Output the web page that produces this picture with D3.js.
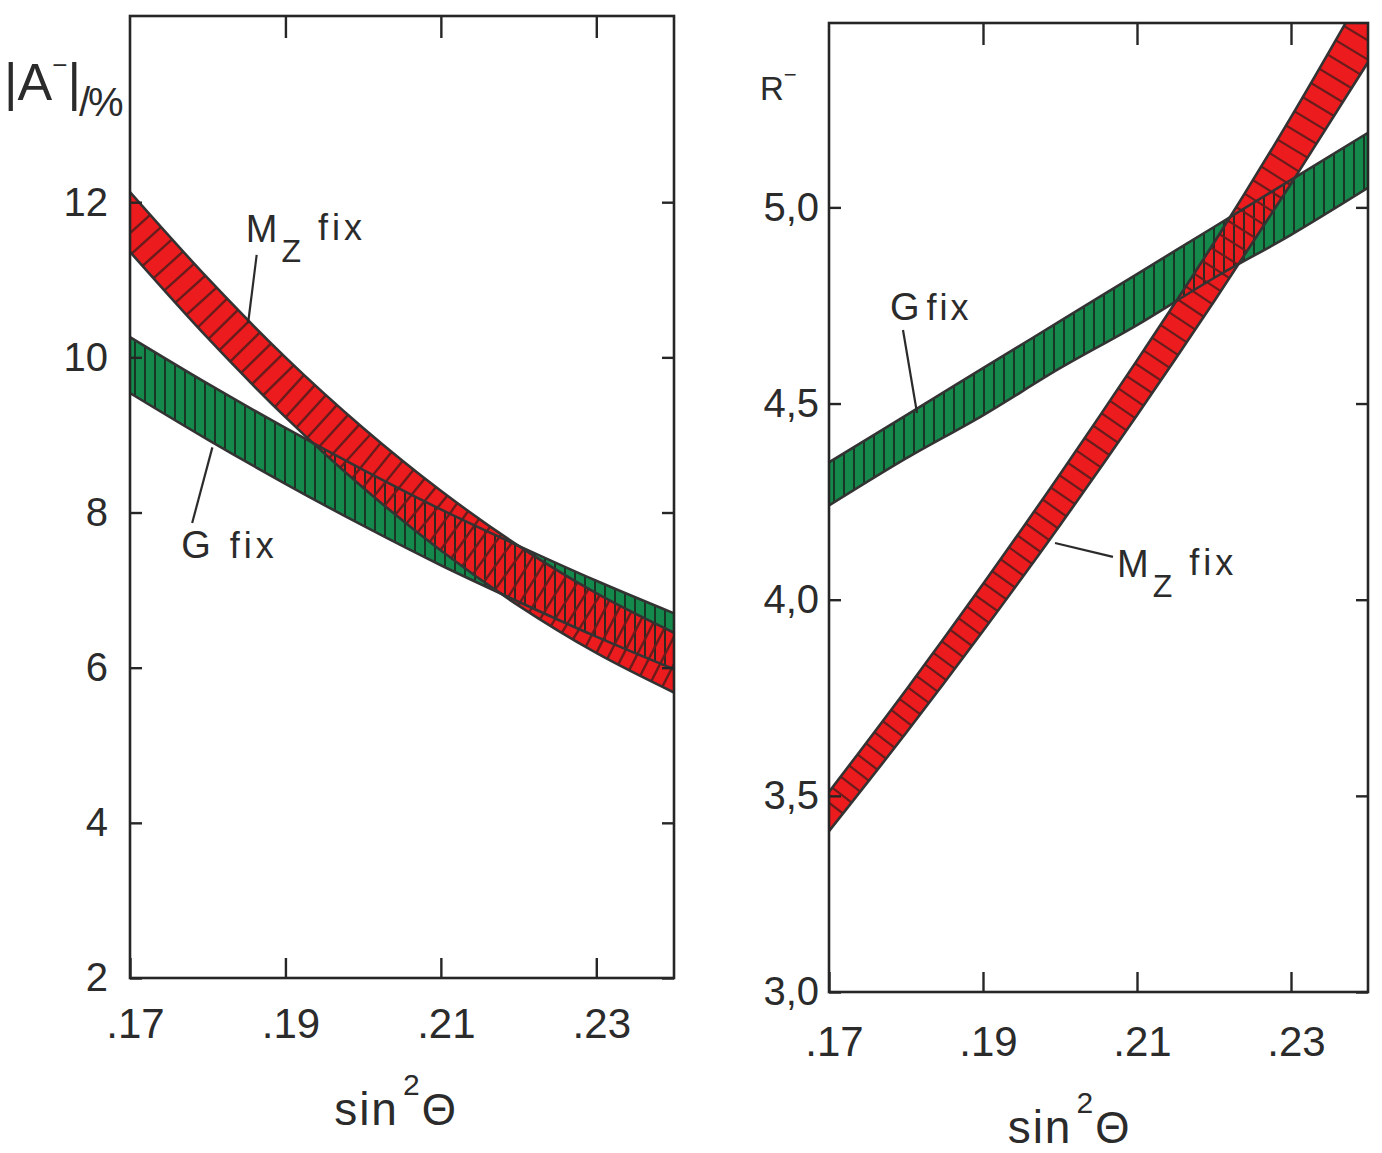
<!DOCTYPE html>
<html>
<head>
<meta charset="utf-8">
<script src="https://cdn.jsdelivr.net/npm/d3@7/dist/d3.min.js"></script>
<style>
  html, body { margin: 0; padding: 0; background: #ffffff; }
  svg { display: block; }
  text { font-family: "Liberation Sans", Arial, sans-serif; fill: #2b2b2b; }
</style>
</head>
<body>
<svg id="chart" width="1382" height="1153"></svg>
<script>
// Weak mixing angle grid shared by both panels
const sin2theta = [0.17, 0.18, 0.19, 0.20, 0.21, 0.22, 0.23, 0.24];

// |A-| in %, upper / lower edge of each band
const asymMzUpper = [12.13, 11.02, 10.00, 9.09, 8.28, 7.57, 6.96, 6.45];
const asymMzLower = [11.36, 10.25, 9.23, 8.32, 7.51, 6.80, 6.19, 5.68];
const asymGUpper  = [10.26, 9.66, 9.09, 8.55, 8.04, 7.57, 7.12, 6.70];
const asymGLower  = [9.54, 8.94, 8.37, 7.83, 7.32, 6.85, 6.40, 5.98];

// R-, upper / lower edge of each band
const ratioMzUpper = [3.51, 3.77, 4.04, 4.32, 4.61, 4.91, 5.23, 5.57];
const ratioMzLower = [3.41, 3.66, 3.92, 4.19, 4.47, 4.76, 5.06, 5.37];
const ratioGUpper  = [4.35, 4.47, 4.59, 4.71, 4.83, 4.95, 5.07, 5.19];
const ratioGLower  = [4.24, 4.36, 4.47, 4.59, 4.70, 4.82, 4.93, 5.05];

// Tick values
const xTickValues = [0.17, 0.19, 0.21, 0.23];
const asymTickValues = [2, 4, 6, 8, 10, 12];
const ratioTickValues = [3.0, 3.5, 4.0, 4.5, 5.0];

// Band label anchors in data units: [sin2theta, value]
const asymMzLabel = { text: ["M", "Z", "fix"], at: [0.1849, 11.49], lead: [[0.1863, 11.32], [0.1852, 10.44]] };
const asymGLabel  = { text: ["G", "", "fix"], at: [0.1766, 7.41], lead: [[0.1806, 8.84], [0.1780, 7.865]] };
const ratioGLabel  = { text: ["G", "", "fix"], at: [0.17792, 4.713], lead: [[0.17961, 4.6875], [0.18143, 4.476]] };
const ratioMzLabel = { text: ["M", "Z", "fix"], at: [0.2074, 4.058], lead: [[0.19935, 4.1445], [0.20688, 4.109]] };

const RED = "#ec1b1e", GREEN = "#15894b";
const RED_HATCH = "#6a1c1c", GREEN_HATCH = "#1b2c22", INK = "#262626";

const svg = d3.select("#chart");
const defs = svg.append("defs");

const panels = [
  {
    id: "asym",
    box: { left: 130, right: 674, top: 16, bottom: 978 },
    yDomain: [2, 14.4],
    yTicks: asymTickValues,
    yFormat: d => String(d),
    yPad: 22, xPad: 30,
    bands: [
      { upper: asymGUpper, lower: asymGLower, fill: GREEN, hatch: GREEN_HATCH, mode: "vertical", step: 10, width: 1.8 },
      { upper: asymMzUpper, lower: asymMzLower, fill: RED, hatch: RED_HATCH, mode: "across", step: 11, width: 2.4 }
    ],
    labels: [asymMzLabel, asymGLabel],
    labelFont: [38, 32, 36],
    titleX: -7, titleY: 1125
  },
  {
    id: "ratio",
    box: { left: 829, right: 1368, top: 23, bottom: 992 },
    yDomain: [3.0, 5.47],
    yTicks: ratioTickValues,
    yFormat: d => d3.format(".1f")(d).replace(".", ","),
    yPad: 10, xPad: 34,
    bands: [
      { upper: ratioGUpper, lower: ratioGLower, fill: GREEN, hatch: GREEN_HATCH, mode: "vertical", step: 10, width: 1.8 },
      { upper: ratioMzUpper, lower: ratioMzLower, fill: RED, hatch: RED_HATCH, mode: "across", step: 8.5, width: 2.2 }
    ],
    labels: [ratioGLabel, ratioMzLabel],
    labelFont: [38, 32, 36],
    titleX: -30, titleY: 1143
  }
];

panels.forEach(p => {
  const b = p.box;
  const x = d3.scaleLinear().domain([0.17, 0.24]).range([b.left, b.right]);
  const y = d3.scaleLinear().domain(p.yDomain).range([b.bottom, b.top]);
  const g = svg.append("g").attr("class", "panel-" + p.id);

  defs.append("clipPath").attr("id", "plot-" + p.id)
    .append("rect")
    .attr("x", b.left).attr("y", b.top)
    .attr("width", b.right - b.left).attr("height", b.bottom - b.top);

  const plot = g.append("g").attr("clip-path", "url(#plot-" + p.id + ")");

  const area = (up, lo) => d3.area()
    .x((d, i) => x(sin2theta[i]))
    .y0((d, i) => y(lo[i]))
    .y1((d, i) => y(up[i]))
    .curve(d3.curveMonotoneX)(sin2theta);
  const edge = vals => d3.line()
    .x((d, i) => x(sin2theta[i]))
    .y((d, i) => y(vals[i]))
    .curve(d3.curveMonotoneX)(sin2theta);

  // band shapes used both as fills and as hatch clips
  p.bands.forEach((band, k) => {
    band.path = area(band.upper, band.lower);
    defs.append("clipPath").attr("id", `band-${p.id}-${k}`)
      .append("path").attr("d", band.path);
  });

  // fills
  p.bands.forEach(band => {
    plot.append("path").attr("d", band.path).attr("fill", band.fill);
  });

  // hatching
  p.bands.forEach((band, k) => {
    const upAt = d3.scaleLinear().domain(sin2theta).range(band.upper);
    const loAt = d3.scaleLinear().domain(sin2theta).range(band.lower);
    const midPx = px => {
      const s = x.invert(px);
      return (y(upAt(s)) + y(loAt(s))) / 2;
    };
    const segs = [];
    for (let px = b.left + band.step / 2; px < b.right + band.step; px += band.step) {
      const s = x.invert(px);
      if (band.mode === "vertical") {
        segs.push([px, y(upAt(s)) - 8, px, y(loAt(s)) + 8]);
      } else {
        const c = midPx(px);
        const slope = (midPx(px + 1) - midPx(px - 1)) / 2;
        const n = Math.hypot(slope, 1), L = 70;
        const dx = -slope / n * L, dy = 1 / n * L;
        segs.push([px - dx, c - dy, px + dx, c + dy]);
      }
    }
    plot.append("g").attr("clip-path", `url(#band-${p.id}-${k})`)
      .selectAll("line").data(segs).join("line")
      .attr("x1", d => d[0]).attr("y1", d => d[1])
      .attr("x2", d => d[2]).attr("y2", d => d[3])
      .attr("stroke", band.hatch).attr("stroke-width", band.width);
  });

  // band outlines
  p.bands.forEach(band => {
    [band.upper, band.lower].forEach(vals => {
      plot.append("path").attr("d", edge(vals))
        .attr("fill", "none").attr("stroke", "#333").attr("stroke-width", 2.6);
    });
  });

  // frame
  g.append("rect")
    .attr("x", b.left).attr("y", b.top)
    .attr("width", b.right - b.left).attr("height", b.bottom - b.top)
    .attr("fill", "none").attr("stroke", INK).attr("stroke-width", 2.6);

  const styleAxis = sel => {
    sel.select(".domain").remove();
    sel.selectAll(".tick line").attr("stroke", INK).attr("stroke-width", 2.4);
    sel.selectAll("text").attr("fill", "#2b2b2b");
    sel.attr("font-family", null).attr("font-size", null);
  };

  // left axis with labels, inward ticks
  g.append("g").attr("transform", `translate(${b.left},0)`)
    .call(d3.axisLeft(y).tickValues(p.yTicks).tickSize(-12).tickPadding(p.yPad).tickFormat(p.yFormat))
    .call(styleAxis)
    .selectAll("text").style("font-size", "40px");

  // right axis ticks only
  g.append("g").attr("transform", `translate(${b.right},0)`)
    .call(d3.axisRight(y).tickValues(p.yTicks).tickSize(-12).tickFormat(""))
    .call(styleAxis);

  // bottom axis with labels
  g.append("g").attr("transform", `translate(0,${b.bottom})`)
    .call(d3.axisBottom(x).tickValues(xTickValues).tickSize(-20).tickPadding(p.xPad)
      .tickFormat(d => d3.format(".2f")(d).slice(1)))
    .call(styleAxis)
    .selectAll("text").style("font-size", "42px").attr("dx", 5);

  // top axis ticks only
  g.append("g").attr("transform", `translate(0,${b.top})`)
    .call(d3.axisTop(x).tickValues(xTickValues.slice(1)).tickSize(-22).tickFormat(""))
    .call(styleAxis);

  // band labels with leader lines
  p.labels.forEach(lab => {
    g.append("line")
      .attr("x1", x(lab.lead[0][0])).attr("y1", y(lab.lead[0][1]))
      .attr("x2", x(lab.lead[1][0])).attr("y2", y(lab.lead[1][1]))
      .attr("stroke", "#2b2b2b").attr("stroke-width", 2.2);
    const t = g.append("text")
      .attr("x", x(lab.at[0])).attr("y", y(lab.at[1]));
    t.append("tspan").style("font-size", p.labelFont[0] + "px").text(lab.text[0]);
    if (lab.text[1]) {
      t.append("tspan").attr("dx", 4).attr("dy", 20).style("font-size", p.labelFont[1] + "px").text(lab.text[1]);
      t.append("tspan").attr("dx", 17).attr("dy", -22).style("font-size", p.labelFont[2] + "px")
        .style("letter-spacing", "4px").text(lab.text[2]);
    } else {
      t.append("tspan").attr("dx", p.id === "asym" ? 19 : 7).style("font-size", p.labelFont[2] + "px")
        .style("letter-spacing", p.id === "asym" ? "4px" : "3px").text(lab.text[2]);
    }
  });

  // x-axis title
  const title = g.append("text")
    .attr("x", (b.left + b.right) / 2 + p.titleX).attr("y", p.titleY)
    .attr("text-anchor", "middle");
  title.append("tspan").style("font-size", "46px").style("letter-spacing", "2px").text("sin");
  title.append("tspan").attr("dx", 4).attr("dy", -30).style("font-size", "30px").text("2");
  title.append("tspan").attr("dx", 2).attr("dy", 30).style("font-size", "44px").text("Θ");
});

// y-axis titles
const yTitleLeft = svg.append("text").attr("x", 4).attr("y", 100);
yTitleLeft.append("tspan").style("font-size", "52px").text("|A");
yTitleLeft.append("tspan").attr("dy", -26).style("font-size", "26px").text("−");
yTitleLeft.append("tspan").attr("dy", 26).style("font-size", "52px").text("|");
yTitleLeft.append("tspan").attr("dy", 16).attr("dx", -2).style("font-size", "40px")
  .style("letter-spacing", "-2px").text("/%");

const yTitleRight = svg.append("text").attr("x", 760).attr("y", 100);
yTitleRight.append("tspan").style("font-size", "33px").text("R");
yTitleRight.append("tspan").attr("dy", -18).style("font-size", "22px").text("−");
</script>
</body>
</html>
